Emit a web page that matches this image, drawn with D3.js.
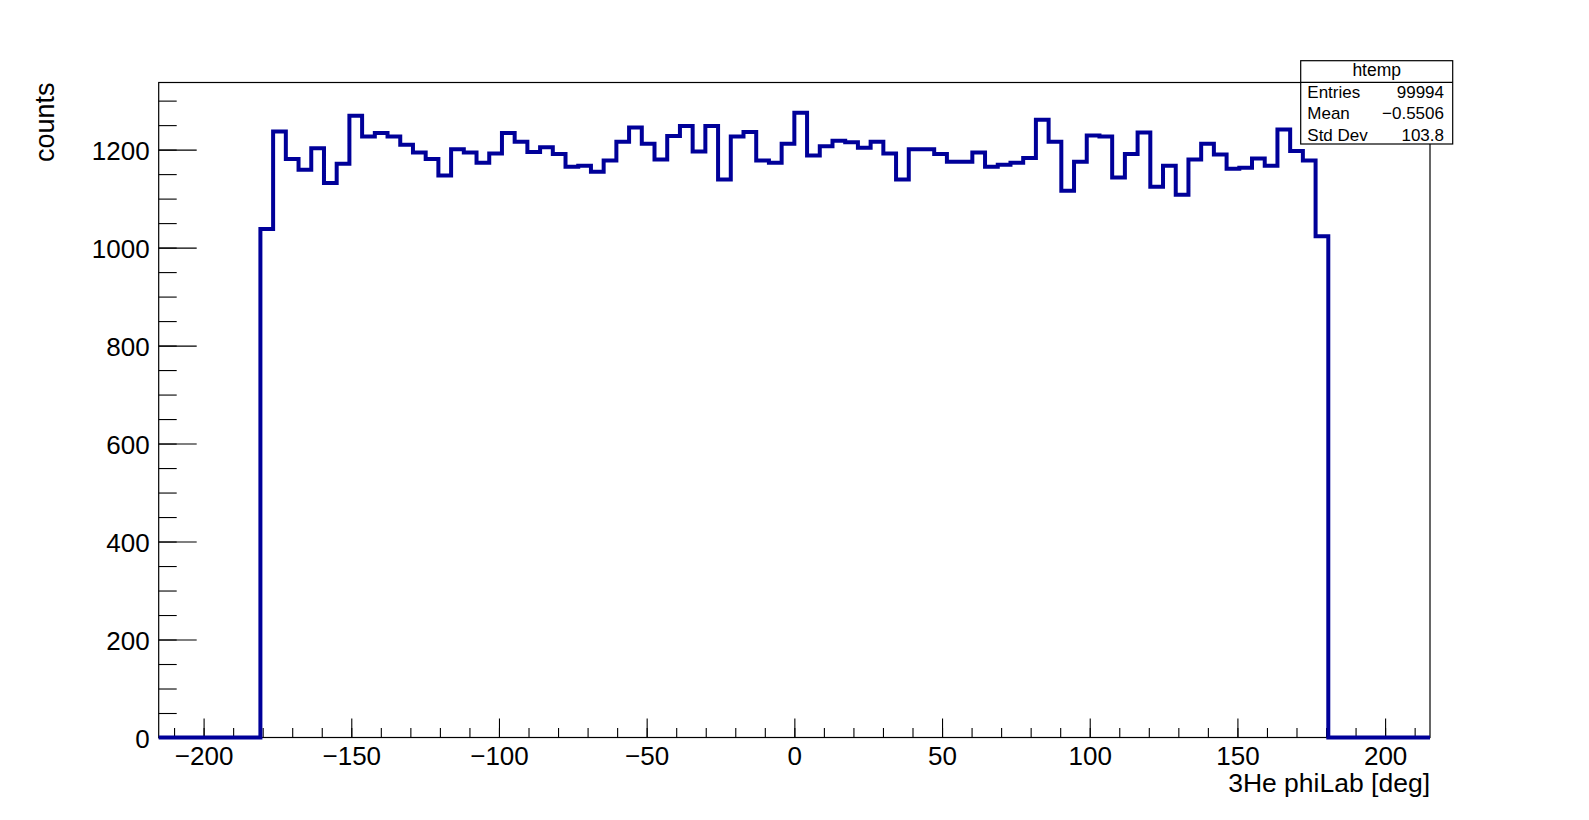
<!DOCTYPE html>
<html>
<head>
<meta charset="utf-8">
<script src="https://cdn.jsdelivr.net/npm/d3@7"></script>
<style>
  body { margin: 0; background: #fff; }
  text { font-family: "Liberation Sans", Arial, Helvetica, sans-serif; fill: #000; }
</style>
</head>
<body>
<div id="container"></div>
<script>
// histogram settings
const nBins = 100;
const xMin = -215.2;
const xMax = 215.2;
const yMax = 1337;

// bin contents (100 bins)
const counts = [
  0, 0, 0, 0, 0, 0, 0, 0,
  1038, 1237, 1181, 1159, 1203, 1132, 1171, 1269, 1227, 1234,
  1227, 1210, 1194, 1181, 1147, 1201, 1194, 1173, 1192, 1234,
  1216, 1195, 1205, 1191, 1165, 1167, 1155, 1178, 1216, 1245,
  1212, 1180, 1228, 1248, 1196, 1248, 1139, 1227, 1236, 1178,
  1173, 1212, 1275, 1188, 1207, 1218, 1215, 1204, 1216, 1192,
  1139, 1201, 1201, 1191, 1175, 1175, 1194, 1165, 1169, 1173,
  1183, 1261, 1216, 1116, 1175, 1229, 1227, 1143, 1191, 1235,
  1124, 1167, 1108, 1180, 1212, 1190, 1161, 1163, 1182, 1167,
  1241, 1197, 1178, 1023,
  0, 0, 0, 0, 0, 0, 0, 0
];

// axis ticks
const xMajor = [-200, -150, -100, -50, 0, 50, 100, 150, 200];
const xMinor = d3.range(-210, 211, 10);
const yMajor = [0, 200, 400, 600, 800, 1000, 1200];
const yMinor = d3.range(0, 1301, 50);

// stats box
const statTitle = "htemp";
const statNames = ["Entries", "Mean", "Std Dev"];
const statValues = ["99994", "\u22120.5506", "103.8"];

const xTitle = "3He phiLab [deg]";
const yTitle = "counts";

const W = 1589, H = 820;
const frame = { left: 158.7, right: 1430, top: 82.5, bottom: 737.5 };

const svg = d3.select("#container").
  append("svg").
  attr("width", W).
  attr("height", H);

svg.append("rect").attr("width", W).attr("height", H).attr("fill", "#fff");

const x = d3.scaleLinear().domain([xMin, xMax]).range([frame.left, frame.right]);
const y = d3.scaleLinear().domain([0, yMax]).range([frame.bottom, frame.top]);

// frame
svg.append("rect").
  attr("x", frame.left).
  attr("y", frame.top).
  attr("width", frame.right - frame.left).
  attr("height", frame.bottom - frame.top).
  attr("fill", "none").
  attr("stroke", "#000").
  attr("stroke-width", 1.2);

// x axis
const xAxisMinor = d3.axisBottom(x).tickValues(xMinor).tickSize(-9.5).tickSizeOuter(0).tickFormat("");
const xAxisMajor = d3.axisBottom(x).tickValues(xMajor).tickSize(-19).tickSizeOuter(0).
  tickPadding(9.5).tickFormat(d3.format("d"));

svg.append("g").attr("transform", `translate(0,${frame.bottom})`).call(xAxisMinor);
const gx = svg.append("g").attr("transform", `translate(0,${frame.bottom})`).call(xAxisMajor);

// y axis
const yAxisMinor = d3.axisLeft(y).tickValues(yMinor).tickSize(-18).tickSizeOuter(0).tickFormat("");
const yAxisMajor = d3.axisLeft(y).tickValues(yMajor).tickSize(-38).tickSizeOuter(0).
  tickPadding(9).tickFormat(d3.format("d"));

svg.append("g").attr("transform", `translate(${frame.left},0)`).call(yAxisMinor);
const gy = svg.append("g").attr("transform", `translate(${frame.left},0)`).call(yAxisMajor);

svg.selectAll(".domain").remove();
svg.selectAll(".tick line").attr("stroke", "#000").attr("stroke-width", 1.1);
svg.selectAll(".tick text").
  attr("font-size", 26).
  attr("font-family", "Liberation Sans, Arial, sans-serif").
  attr("fill", "#000");
gy.selectAll(".tick text").attr("dy", "0.38em");

// axis titles
svg.append("text").
  attr("x", frame.right).
  attr("y", 791.5).
  attr("text-anchor", "end").
  attr("font-size", 26.5).
  text(xTitle);

svg.append("text").
  attr("transform", `translate(53.5,${frame.top}) rotate(-90)`).
  attr("text-anchor", "end").
  attr("font-size", 27).
  text(yTitle);

// histogram outline
const binW = (xMax - xMin) / nBins;
let pts = [];
counts.forEach((c, i) => {
  pts.push([xMin + i * binW, c]);
  pts.push([xMin + (i + 1) * binW, c]);
});

const line = d3.line().
  x(d => x(d[0])).
  y(d => y(d[1]));

svg.append("path").
  datum(pts).
  attr("d", line).
  attr("fill", "none").
  attr("stroke", "#000099").
  attr("stroke-width", 4).
  attr("stroke-linejoin", "miter");

// stats box
const box = { x: 1300.7, y: 60.7, w: 152, h: 83.3, head: 21.6 };
const stats = svg.append("g");
stats.append("rect").
  attr("x", box.x).
  attr("y", box.y).
  attr("width", box.w).
  attr("height", box.h).
  attr("fill", "#fff").
  attr("stroke", "#000").
  attr("stroke-width", 1.2);
stats.append("line").
  attr("x1", box.x).
  attr("x2", box.x + box.w).
  attr("y1", box.y + box.head).
  attr("y2", box.y + box.head).
  attr("stroke", "#000").
  attr("stroke-width", 1.2);
stats.append("text").
  attr("x", box.x + box.w / 2).
  attr("y", 75.5).
  attr("text-anchor", "middle").
  attr("font-size", 17.5).
  text(statTitle);

const rowBase = [97.7, 119.3, 140.7];
statNames.forEach((n, i) => {
  stats.append("text").
    attr("x", box.x + 6.6).
    attr("y", rowBase[i]).
    attr("font-size", 17).
    text(n);
  stats.append("text").
    attr("x", box.x + box.w - 8.7).
    attr("y", rowBase[i]).
    attr("text-anchor", "end").
    attr("font-size", 17).
    text(statValues[i]);
});
</script>
</body>
</html>
